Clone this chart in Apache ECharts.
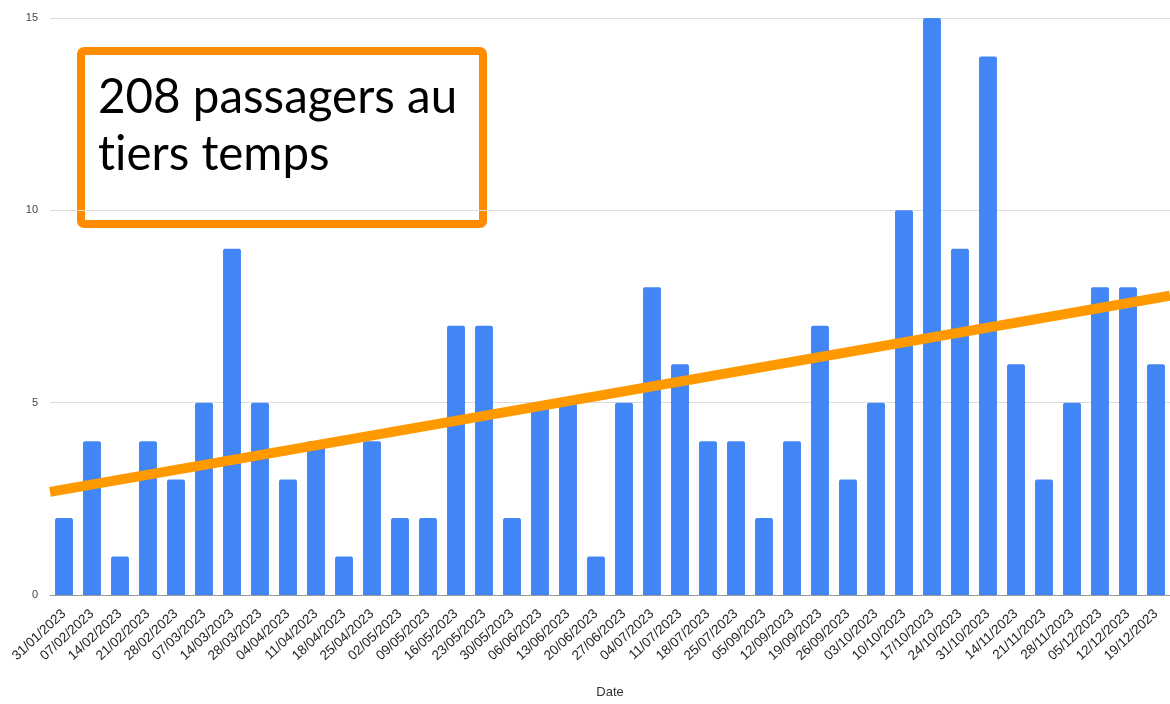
<!DOCTYPE html>
<html>
<head>
<meta charset="utf-8">
<script src="https://cdn.jsdelivr.net/npm/echarts@6/dist/echarts.min.js"></script>
<style>
  html, body { margin: 0; padding: 0; background: #fff; }
  #chart { width: 1170px; height: 704px; }
</style>
</head>
<body>
<div id="chart"></div>
<script>
var dates = [
  "31/01/2023", "07/02/2023", "14/02/2023", "21/02/2023", "28/02/2023",
  "07/03/2023", "14/03/2023", "28/03/2023", "04/04/2023", "11/04/2023",
  "18/04/2023", "25/04/2023", "02/05/2023", "09/05/2023", "16/05/2023",
  "23/05/2023", "30/05/2023", "06/06/2023", "13/06/2023", "20/06/2023",
  "27/06/2023", "04/07/2023", "11/07/2023", "18/07/2023", "25/07/2023",
  "05/09/2023", "12/09/2023", "19/09/2023", "26/09/2023", "03/10/2023",
  "10/10/2023", "17/10/2023", "24/10/2023", "31/10/2023", "14/11/2023",
  "21/11/2023", "28/11/2023", "05/12/2023", "12/12/2023", "19/12/2023"
];
var passagers = [
  2, 4, 1, 4, 3, 5, 9, 5, 3, 4,
  1, 4, 2, 2, 7, 7, 2, 5, 5, 1,
  5, 8, 6, 4, 4, 2, 4, 7, 3, 5,
  10, 15, 9, 14, 6, 3, 5, 8, 8, 6
];
// trend line: value at left and right edge of the plot
var trendX = [0, 40];
var trendY = [2.68, 7.78];
var yTicks = [0, 5, 10, 15];

var myChart = echarts.init(document.getElementById("chart"));
myChart.setOption({
  animation: false,
  grid: {
    left: 50,
    top: 18,
    width: 1126,
    height: 580
  },
  xAxis: [
    {
      type: "category",
      data: dates,
      name: "Date",
      nameLocation: "middle",
      nameGap: 91,
      nameTextStyle: { fontFamily: "Liberation Sans", fontSize: 13, color: "#333" },
      axisTick: { show: false },
      axisLine: { lineStyle: { color: "#999", width: 1 } },
      axisLabel: {
        rotate: 43,
        interval: 0,
        margin: 17,
        fontFamily: "Liberation Sans",
        fontSize: 13.5,
        color: "#222"
      }
    },
    {
      type: "value",
      min: trendX[0],
      max: trendX[1],
      show: false
    }
  ],
  yAxis: {
    type: "value",
    min: yTicks[0],
    max: yTicks[yTicks.length - 1],
    interval: 5,
    axisLine: { show: false },
    axisTick: { show: false },
    axisLabel: {
      margin: 12,
      fontFamily: "Liberation Sans",
      fontSize: 11,
      color: "#444"
    },
    splitLine: { lineStyle: { color: "#dcdcdc", width: 1 } }
  },
  series: [
    {
      name: "Passagers",
      type: "bar",
      data: passagers,
      barCategoryGap: "36%",
      itemStyle: { color: "#4285F4", borderRadius: [2, 2, 0, 0] }
    },
    {
      name: "Tendance",
      type: "line",
      xAxisIndex: 1,
      data: trendX.map(function (x, i) { return [x, trendY[i]]; }),
      symbol: "none",
      z: 5,
      lineStyle: { color: "#FF9900", width: 10, cap: "butt" }
    }
  ],
  graphic: [
    {
      type: "group",
      z: 100,
      children: [
        {
          type: "rect",
          shape: { x: 81, y: 51, width: 402, height: 173, r: 3 },
          style: { fill: "#fff", stroke: "#FF8C00", lineWidth: 8 }
        },
        {
          type: "text",
          x: 98,
          y: 98,
          style: {
            text: "208 passagers au",
            font: "47.5px Lato",
            fill: "#000",
            verticalAlign: "middle"
          }
        },
        {
          type: "text",
          x: 98,
          y: 155,
          style: {
            // zero-width non-joiner keeps Lato from drawing its "ti" ligature
            text: "t\u200Ciers temps",
            font: "47.5px Lato",
            fill: "#000",
            verticalAlign: "middle"
          }
        }
      ]
    }
  ]
});
</script>
</body>
</html>
